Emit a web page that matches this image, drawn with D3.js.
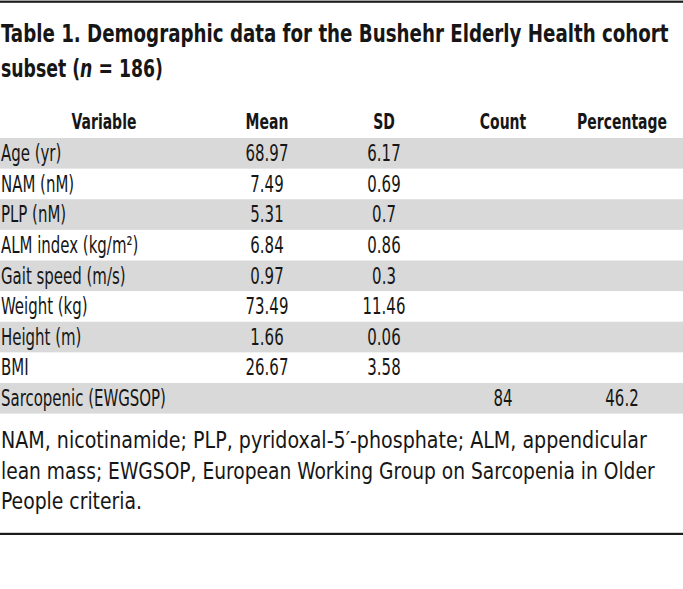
<!DOCTYPE html>
<html>
<head>
<meta charset="utf-8">
<script src="https://cdn.jsdelivr.net/npm/d3@7"></script>
<style>
  body { margin: 0; background: #fff; }
  svg { display: block; }
  text { font-family: "Liberation Sans Narrow", "DejaVu Sans Condensed", "Roboto", sans-serif; fill: #161616; }
</style>
</head>
<body>
<div id="table"></div>
<script>
// Table data
const titleLines = ["Table 1. Demographic data for the Bushehr Elderly Health cohort", "subset (", "n", " = 186)"];
const columns = ["Variable", "Mean", "SD", "Count", "Percentage"];
const variables = ["Age (yr)", "NAM (nM)", "PLP (nM)", "ALM index (kg/m²)", "Gait speed (m/s)",
  "Weight (kg)", "Height (m)", "BMI", "Sarcopenic (EWGSOP)"];
const means = [68.97, 7.49, 5.31, 6.84, 0.97, 73.49, 1.66, 26.67, null];
const sds = [6.17, 0.69, 0.7, 0.86, 0.3, 11.46, 0.06, 3.58, null];
const counts = [null, null, null, null, null, null, null, null, 84];
const percentages = [null, null, null, null, null, null, null, null, 46.2];
const footnoteLines = [
  "NAM, nicotinamide; PLP, pyridoxal-5′-phosphate; ALM, appendicular",
  "lean mass; EWGSOP, European Working Group on Sarcopenia in Older",
  "People criteria."
];

const width = 683, height = 589;

const svg = d3.select("#table")
  .append("svg")
  .attr("width", width)
  .attr("height", height);

// the original font is narrower, so squeeze each text horizontally
function squeeze(node, x, y, k) {
  d3.select(node)
    .attr("x", 0)
    .attr("y", 0)
    .attr("transform", `translate(${x},${y}) scale(${k},1)`);
}

// Top and bottom rules
svg.append("rect").attr("x", 0).attr("y", 0.6).attr("width", width).attr("height", 2.2).attr("fill", "#1c1c1c");
svg.append("rect").attr("x", 0).attr("y", 532.8).attr("width", width).attr("height", 2.2).attr("fill", "#1c1c1c");

// Title
const title = svg.append("g").style("font-weight", "700").style("font-size", "24px");
const t1 = title.append("text").text(titleLines[0]).node();
squeeze(t1, 1, 42, 668 / t1.getComputedTextLength());
const t2 = title.append("text");
t2.append("tspan").text(titleLines[1]);
t2.append("tspan").style("font-style", "italic").text(titleLines[2]);
t2.append("tspan").text(titleLines[3]);
squeeze(t2.node(), 1, 77, 162 / t2.node().getComputedTextLength());

// Scales
const rowY = d3.scaleBand()
  .domain(d3.range(variables.length))
  .range([138, 413.6]);

const colX = d3.scaleOrdinal()
  .domain(columns)
  .range([104, 267, 384, 503, 622]);

// Striped rows
svg.append("g")
  .selectAll("rect")
  .data(d3.range(variables.length).filter(i => i % 2 === 0))
  .join("rect")
  .attr("x", 0)
  .attr("y", i => rowY(i))
  .attr("width", width)
  .attr("height", rowY.bandwidth())
  .attr("fill", "#d9d9d9");

// Header
const header = svg.append("g")
  .style("font-weight", "700")
  .style("font-size", "21px")
  .selectAll("text")
  .data(columns)
  .join("text")
  .attr("text-anchor", "middle")
  .text(d => d);
const hk = 90 / header.filter(d => d === "Percentage").node().getComputedTextLength();
header.each(function(d) { squeeze(this, colX(d), 129, hk); });

// Body cells
const cells = [];
variables.forEach((v, i) => {
  cells.push({ row: i, col: "Variable", text: v });
  [["Mean", means], ["SD", sds], ["Count", counts], ["Percentage", percentages]].forEach(([c, arr]) => {
    if (arr[i] != null) cells.push({ row: i, col: c, text: String(arr[i]) });
  });
});

const body = svg.append("g")
  .style("font-size", "23px")
  .selectAll("text")
  .data(cells)
  .join("text")
  .attr("text-anchor", d => d.col === "Variable" ? "start" : "middle")
  .text(d => d.text);
const bk = 165 / body.filter(d => d.text === "Sarcopenic (EWGSOP)").node().getComputedTextLength();
body.each(function(d) {
  squeeze(this, d.col === "Variable" ? 1 : colX(d.col), rowY(d.row) + rowY.bandwidth() / 2 + 7.8, bk);
});

// Footnote
const footWidths = [646, 654, 141];
svg.append("g")
  .style("font-size", "23px")
  .selectAll("text")
  .data(footnoteLines)
  .join("text")
  .text(d => d)
  .each(function(d, i) { squeeze(this, 1, 448 + i * 30.5, footWidths[i] / this.getComputedTextLength()); });
</script>
</body>
</html>
